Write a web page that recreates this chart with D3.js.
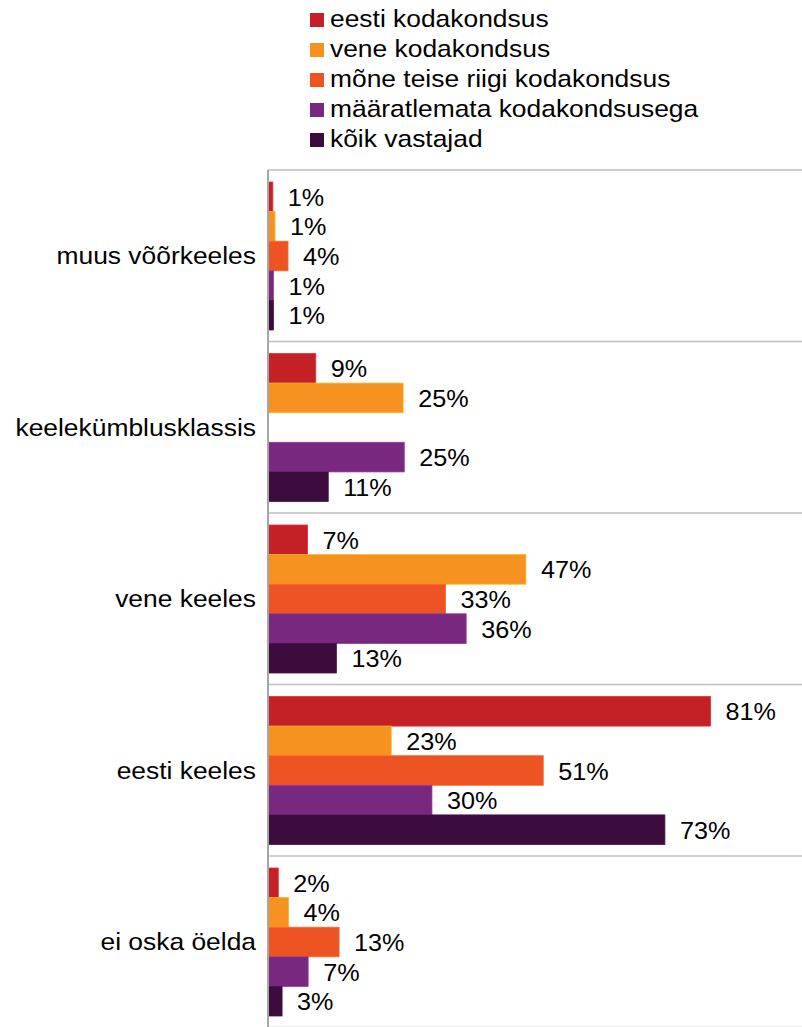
<!DOCTYPE html>
<html>
<head>
<meta charset="utf-8">
<script src="https://cdn.jsdelivr.net/npm/d3@7"></script>
<style>
  html, body { margin: 0; padding: 0; background: #fff; }
  svg { display: block; }
  text { font-family: "Liberation Sans", Arial, sans-serif; fill: #000; }
</style>
</head>
<body>
<svg id="chart" width="802" height="1027"></svg>
<script>
const categories = ["muus võõrkeeles", "keelekümblusklassis", "vene keeles", "eesti keeles", "ei oska öelda"];
const seriesNames = ["eesti kodakondsus", "vene kodakondsus", "mõne teise riigi kodakondsus", "määratlemata kodakondsusega", "kõik vastajad"];
const seriesColors = ["#C42127", "#F6921F", "#EE5423", "#78297F", "#3C0C3C"];
const eestiKodakondsus = [0.8, 8.7, 7.2, 81.4, 1.8];
const veneKodakondsus = [1.2, 24.8, 47.4, 22.6, 3.7];
const moneTeiseRiigi = [3.6, null, 32.6, 50.6, 13.0];
const maaratlemata = [0.9, 25.0, 36.4, 30.1, 7.3];
const koikVastajad = [0.9, 11.0, 12.5, 73.0, 2.5];
const seriesValues = [eestiKodakondsus, veneKodakondsus, moneTeiseRiigi, maaratlemata, koikVastajad];

const svg = d3.select("#chart");

const x = d3.scaleLinear().domain([0, 100]).range([268.5, 811.5]);
const y = d3.scaleBand().domain(categories).range([170, 1027.5]).padding(0);
const inner = d3.scaleBand().domain(d3.range(seriesNames.length))
  .range([12, y.bandwidth() - 11.5]).padding(0);

const rows = [];
categories.forEach((c, ci) => {
  seriesValues.forEach((vals, si) => {
    if (vals[ci] != null) rows.push({cat: c, si, v: vals[ci]});
  });
});

// separators
svg.append("g").selectAll("line")
  .data(categories.concat(["__end"]))
  .join("line")
  .attr("x1", 268).attr("x2", 802)
  .attr("y1", (d, i) => i < categories.length ? y(d) : y.range()[1])
  .attr("y2", (d, i) => i < categories.length ? y(d) : y.range()[1])
  .attr("stroke", "#BFBFBF").attr("stroke-width", 1.5);

// bars
svg.append("g").selectAll("rect")
  .data(rows)
  .join("rect")
  .attr("x", x(0))
  .attr("y", d => y(d.cat) + inner(d.si))
  .attr("width", d => x(d.v) - x(0))
  .attr("height", inner.bandwidth())
  .attr("fill", d => seriesColors[d.si])
  .attr("stroke", d => d3.color(seriesColors[d.si]).brighter(0.6))
  .attr("stroke-width", 0.8);

// value labels
svg.append("g").selectAll("text")
  .data(rows)
  .join("text")
  .attr("transform", d => `translate(${x(d.v) + 15},${y(d.cat) + inner(d.si) + inner.bandwidth() / 2 + 9}) scale(1.05,1)`)
  .attr("font-size", 24)
  .text(d => Math.round(d.v) + "%");

// axis line
svg.append("line")
  .attr("x1", 268).attr("x2", 268)
  .attr("y1", 170).attr("y2", 1027)
  .attr("stroke", "#A6A6A6").attr("stroke-width", 2);

// category labels
svg.append("g").selectAll("text")
  .data(categories)
  .join("text")
  .attr("transform", d => `translate(256,${y(d) + y.bandwidth() / 2 + 8.5}) scale(1.1,1)`)
  .attr("text-anchor", "end")
  .attr("font-size", 24)
  .text(d => d);

// legend
const lg = svg.append("g").selectAll("g")
  .data(seriesNames)
  .join("g")
  .attr("transform", (d, i) => `translate(310,${13 + i * 30})`);
lg.append("rect")
  .attr("width", 14).attr("height", 14)
  .attr("fill", (d, i) => seriesColors[i]);
lg.append("text")
  .attr("transform", "translate(20,14.3) scale(1.1,1)")
  .attr("font-size", 24)
  .text(d => d);
</script>
</body>
</html>
